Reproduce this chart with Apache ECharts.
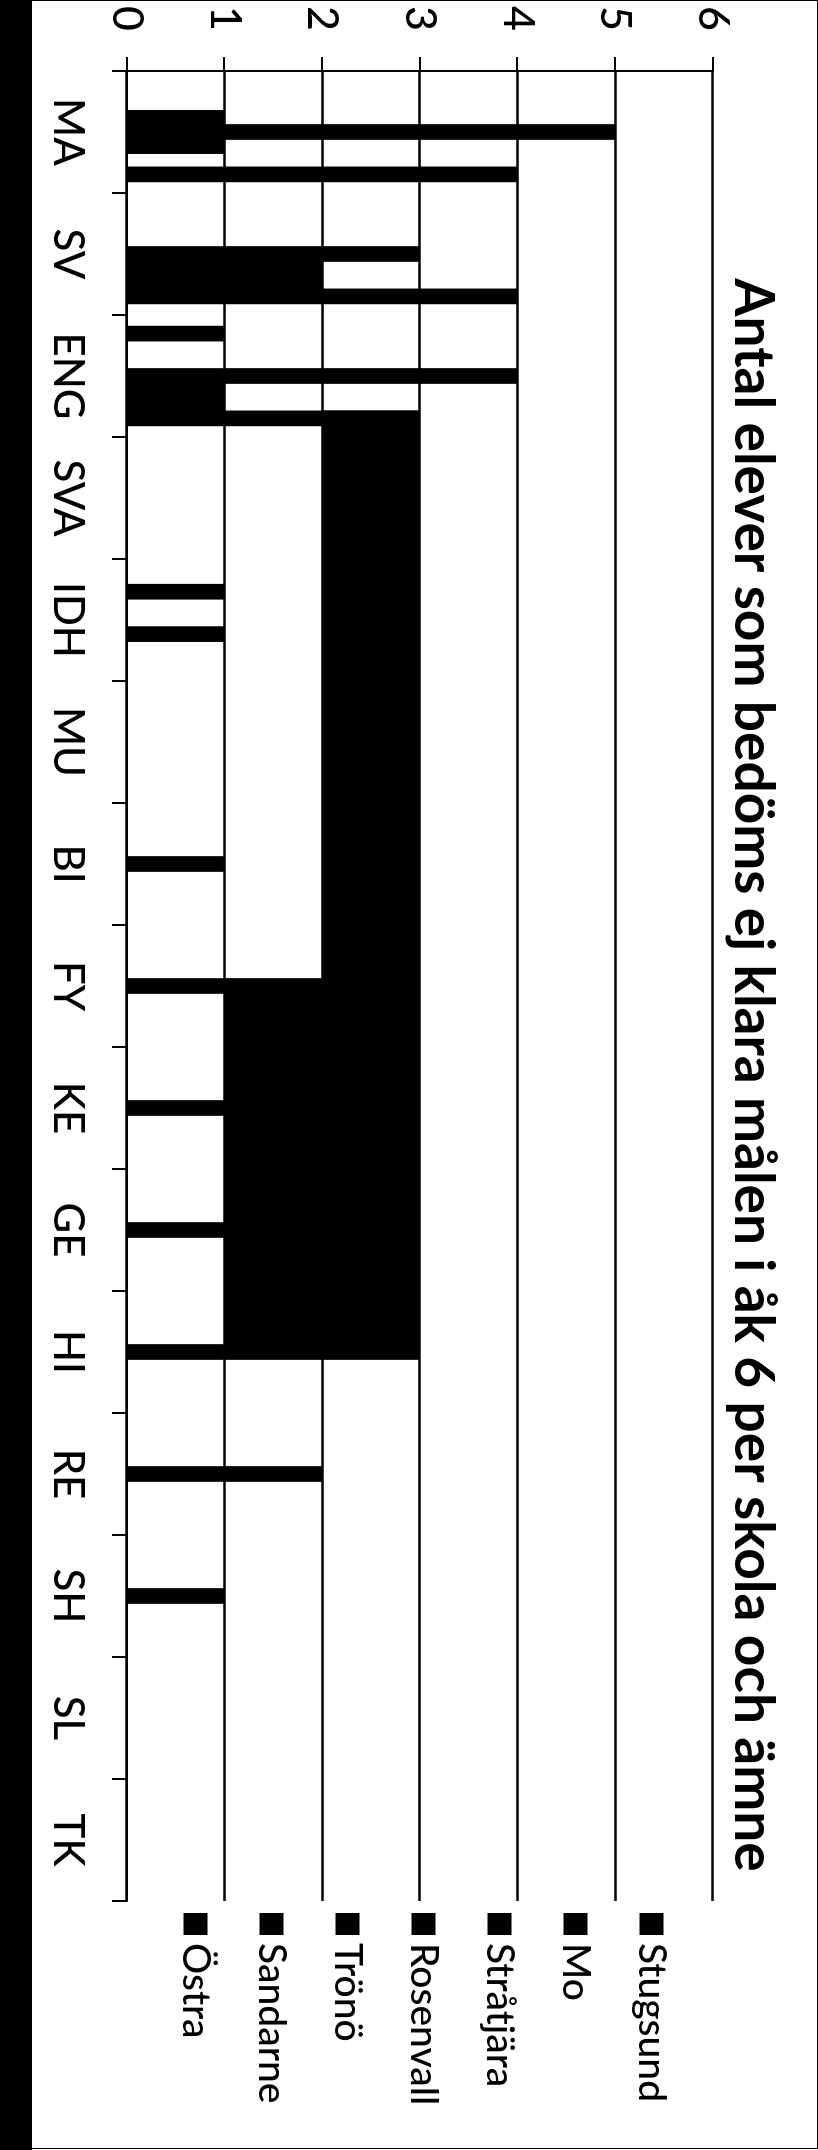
<!DOCTYPE html>
<html>
<head>
<meta charset="utf-8">
<script src="https://cdn.jsdelivr.net/npm/echarts@6.0.0/dist/echarts.min.js"></script>
<style>
html,body{margin:0;padding:0;background:#fff;width:818px;height:2150px;overflow:hidden;}
#strip{position:absolute;left:0;top:0;width:32px;height:2150px;background:#000;}
#frame{position:absolute;left:32px;top:0;width:786px;height:2149px;border-top:1.5px solid #000;border-right:1.5px solid #000;border-bottom:1.5px solid #000;box-sizing:border-box;}
#chart{position:absolute;left:0;top:0;width:2150px;height:818px;transform-origin:0 0;transform:translate(818px,0) rotate(90deg);}
</style>
</head>
<body>
<div id="strip"></div>
<div id="frame"></div>
<div id="chart"></div>
<script>
// ---- data ----
const titleText = 'Antal elever som bedöms ej klara målen i åk 6 per skola och ämne';
const categories = ['MA','SV','ENG','SVA','IDH','MU','BI','FY','KE','GE','HI','RE','SH','SL','TK'];
const schools = ['Stugsund','Mo','Stråtjära','Rosenvall','Trönö','Sandarne','Östra'];
const stugsund  = [0,0,1,0,0,0,0,0,0,0,0,0,0,0,0];
const mo        = [0,0,0,0,1,0,0,0,0,0,0,0,0,0,0];
const stratjara = [1,0,0,0,0,0,0,0,0,0,0,0,0,0,0];
const rosenvall = [5,3,4,0,0,0,1,1,1,1,1,2,1,0,0];
const trono     = [1,2,1,0,1,0,0,0,0,0,0,0,0,0,0];
const sandarne  = [0,2,1,0,0,0,0,0,0,0,0,0,0,0,0];
const ostra     = [4,4,3,0,0,0,0,0,0,0,0,0,0,0,0];
const valueTicks = [0,1,2,3,4,5,6];
// dark scanned blocks: [from category, from school bar], [to category, to school bar], low/high value
const shadedFrom = [['ENG','Östra'],['FY','Rosenvall']];
const shadedTo   = [['HI','Rosenvall'],['HI','Rosenvall']];
const shadedLow  = [2,1];
const shadedHigh = [3,2];

const seriesValues = [stugsund, mo, stratjara, rosenvall, trono, sandarne, ostra];
const GAP = 1.5 / 8.5;   // category gap fraction (Excel gap width 150%)
const OVER = 0.1;        // tiny overlap between neighbouring bars (avoids hairline seams)
const N = schools.length;

const blockData = shadedFrom.map((f, i) => [
  categories.indexOf(f[0]), schools.indexOf(f[1]),
  categories.indexOf(shadedTo[i][0]), schools.indexOf(shadedTo[i][1]),
  shadedLow[i], shadedHigh[i]
]);

const FONT = 'Lato, Carlito, "Open Sans", sans-serif';
const chart = echarts.init(document.getElementById('chart'), null, {renderer: 'canvas'});

const barSeries = schools.map((name, i) => ({
  name: name,
  type: 'bar',
  data: seriesValues[i].map(v => v === 0 ? '-' : v),
  barGap: (-OVER * 100) + '%',
  barCategoryGap: (GAP * 100).toFixed(2) + '%',
  itemStyle: {color: '#000'},
  emphasis: {disabled: true},
  z: 3
}));

const blockSeries = {
  type: 'custom',
  name: 'block',
  data: blockData,
  encode: {x: [0, 2], y: [4, 5]},
  z: 2,
  silent: true,
  renderItem: function (params, api) {
    const band = api.size([1, 0])[0];
    const w = band * (1 - GAP) / (N - (N - 1) * OVER);
    function edge(ci, si, side) {
      const c = api.coord([ci, 0])[0];
      return c - band / 2 + band * GAP / 2 + si * w * (1 - OVER) + side * w;
    }
    const x0 = edge(api.value(0), api.value(1), 0);
    const x1 = edge(api.value(2), api.value(3), 1);
    const yLo = api.coord([api.value(0), api.value(4)])[1];
    const yHi = api.coord([api.value(0), api.value(5)])[1];
    return {
      type: 'rect',
      shape: {x: x0, y: yHi, width: x1 - x0, height: yLo - yHi},
      style: {fill: '#000'}
    };
  }
};

chart.setOption({
  animation: false,
  backgroundColor: 'transparent',
  textStyle: {fontFamily: FONT},
  title: {
    text: titleText,
    left: 'center',
    top: 38,
    padding: 0,
    textStyle: {fontFamily: FONT, fontWeight: 'bold', fontSize: 55, lineHeight: 55, color: '#000'}
  },
  legend: {
    data: schools,
    orient: 'vertical',
    left: 1913,
    top: 147,
    padding: 0,
    icon: 'rect',
    itemWidth: 22,
    itemHeight: 24,
    itemGap: 37,
    textStyle: {fontFamily: FONT, fontWeight: 500, fontSize: 39, lineHeight: 39, color: '#000', padding: [0, 0, 0, 3]}
  },
  grid: {left: 71, right: 249, top: 105, bottom: 127, containLabel: false},
  xAxis: {
    type: 'category',
    data: categories,
    boundaryGap: true,
    axisLine: {show: true, lineStyle: {color: '#000', width: 2}},
    axisTick: {show: true, inside: false, length: 15, lineStyle: {color: '#000', width: 2}},
    axisLabel: {interval: 0, margin: 38, fontSize: 42, fontWeight: 500, lineHeight: 42, color: '#000', fontFamily: FONT},
    splitLine: {show: false}
  },
  yAxis: {
    type: 'value',
    min: valueTicks[0],
    max: valueTicks[valueTicks.length - 1],
    interval: 1,
    axisLine: {show: true, lineStyle: {color: '#000', width: 2}},
    axisTick: {show: true, inside: false, length: 14, lineStyle: {color: '#000', width: 2}},
    axisLabel: {margin: 40, fontSize: 43, fontWeight: 500, lineHeight: 43, color: '#000', fontFamily: FONT},
    splitLine: {show: true, lineStyle: {color: '#000', width: 2.5}}
  },
  series: barSeries.concat([blockSeries])
});
</script>
</body>
</html>
